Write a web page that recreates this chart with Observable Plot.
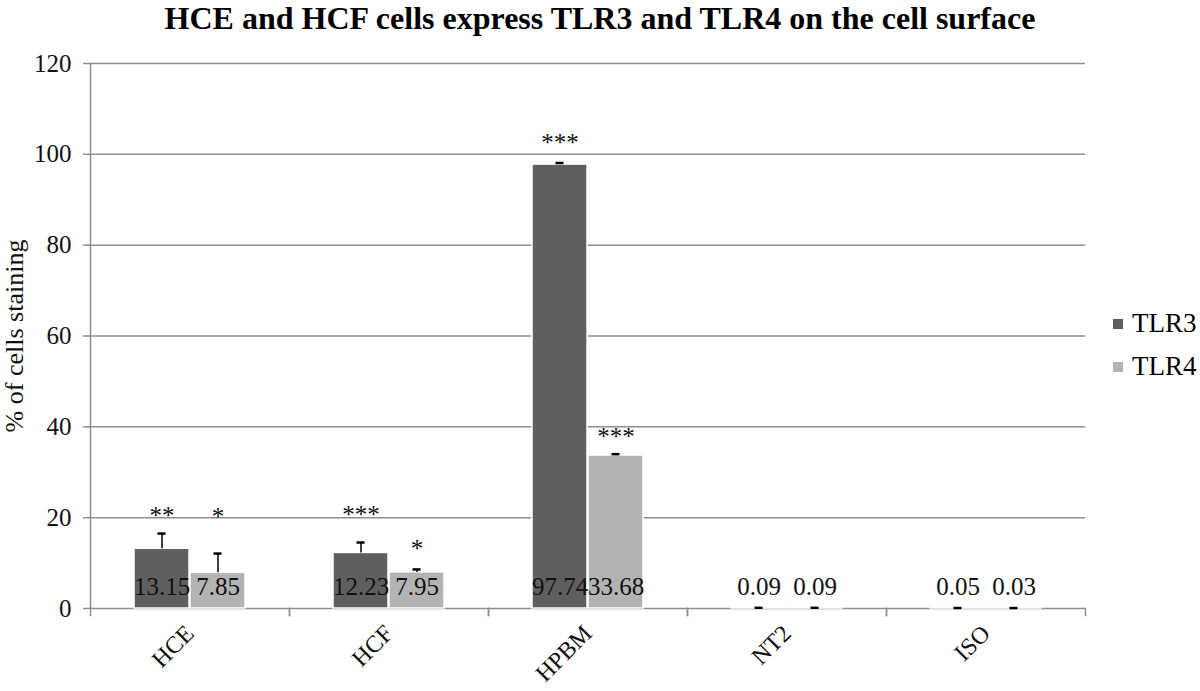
<!DOCTYPE html>
<html>
<head>
<meta charset="utf-8">
<script src="https://cdn.jsdelivr.net/npm/d3@7"></script>
<script src="https://cdn.jsdelivr.net/npm/@observablehq/plot@0.6"></script>
<style>
  body { margin: 0; background: #fff; font-family: "Liberation Serif", "Times New Roman", serif; }
  #wrap { position: relative; width: 1200px; height: 691px; overflow: hidden; }
  #title { position: absolute; left: 0; top: 2px; width: 1200px; text-align: center; font-weight: bold; font-size: 32px; line-height: 32px; color: #000; }
  #chart { position: absolute; left: 0; top: 50px; }
  #chart svg { font-family: "Liberation Serif", "Times New Roman", serif !important; }
  #legend { position: absolute; left: 1113px; top: 302px; font-size: 27px; color: #000; }
  .row { display: flex; align-items: center; height: 43px; }
  .sw { width: 10px; height: 10px; margin-right: 9px; }
</style>
</head>
<body>
<div id="wrap">
  <div id="title">HCE and HCF cells express TLR3 and TLR4 on the cell surface</div>
  <div id="chart"></div>
  <div id="legend"></div>
</div>
<script>
// ---- data ----
const categories = ["HCE", "HCF", "HPBM", "NT2", "ISO"];
const series = ["TLR3", "TLR4"];
const tlr3Values = [13.15, 12.23, 97.74, 0.09, 0.05];
const tlr4Values = [7.85, 7.95, 33.68, 0.09, 0.03];
const tlr3Errors = [3.35, 2.3, 0.35, 0.06, 0.06];
const tlr4Errors = [4.25, 0.65, 0.3, 0.06, 0.06];
const tlr3Sig = ["**", "***", "***", "", ""];
const tlr4Sig = ["*", "*", "***", "", ""];
const tlr3SigY = [21.4, 21.6, 103.5, null, null];
const tlr4SigY = [21.2, 14.3, 38.8, null, null];
const yTicks = [0, 20, 40, 60, 80, 100, 120];
const seriesColors = ["#5f5f5f", "#b3b3b3"];
const yLabel = "% of cells staining";

// ---- table ----
const rows = [];
categories.forEach((c, i) => {
  rows.push({cat: c, series: "TLR3", value: tlr3Values[i], err: tlr3Errors[i], sig: tlr3Sig[i], sigY: tlr3SigY[i]});
  rows.push({cat: c, series: "TLR4", value: tlr4Values[i], err: tlr4Errors[i], sig: tlr4Sig[i], sigY: tlr4SigY[i]});
});

const gridColor = "#8e8e8e";
const serif = "'Liberation Serif', 'Times New Roman', serif";

const chart = Plot.plot({
  width: 1200,
  height: 641,
  marginTop: 13,
  marginBottom: 83,
  marginLeft: 90,
  marginRight: 115,
  style: {fontFamily: serif, background: "white", color: "#111"},
  fx: {domain: categories, padding: 0, label: null},
  x: {domain: series, paddingInner: 0.02, paddingOuter: 0.77, axis: null},
  y: {domain: [0, 120]},
  color: {domain: series, range: seriesColors},
  marks: [
    Plot.gridY(yTicks.filter(t => t > 0), {stroke: gridColor, strokeOpacity: 1, strokeWidth: 1.5}),
    Plot.ruleY([0], {stroke: gridColor, strokeWidth: 1.5}),
    Plot.frame({anchor: "left", facetAnchor: "left", stroke: gridColor, strokeWidth: 1.5}),
    Plot.frame({anchor: "left", stroke: gridColor, strokeWidth: 1.5, insetTop: 545, insetBottom: -7}),
    Plot.frame({anchor: "right", stroke: gridColor, strokeWidth: 1.5, insetTop: 545, insetBottom: -7}),
    Plot.axisY({ticks: yTicks, tickSize: 7, tickPadding: 12, fontSize: 25, fontFamily: serif, stroke: gridColor, strokeWidth: 1.5,
      label: null}),
    Plot.axisY({ticks: [], tickSize: 0, fontSize: 26, fontFamily: serif,
      label: yLabel, labelAnchor: "center", labelOffset: 86, labelArrow: "none"}),
    Plot.axisFx({anchor: "bottom", tickRotate: -45, tickSize: 0, tickPadding: 21, fontSize: 24, fontFamily: serif, label: null}),
    Plot.barY(rows, {fx: "cat", x: "series", y: "value", fill: "series", stroke: "white", strokeWidth: 1.5}),
    Plot.ruleX(rows, {fx: "cat", x: "series", y1: "value", y2: d => d.value + d.err, stroke: "black", strokeWidth: 1.5}),
    Plot.tickY(rows, {fx: "cat", x: "series", y: d => d.value + d.err, stroke: "black", strokeWidth: 2.5, insetLeft: 23.5, insetRight: 23.5}),
    Plot.text(rows, {fx: "cat", x: "series", y: d => 0, text: d => d.value.toFixed(2), dy: -22, fontSize: 25, fontFamily: serif, lineAnchor: "middle", fill: "#111"}),
    Plot.text(rows.filter(d => d.sig), {fx: "cat", x: "series", y: "sigY", text: "sig", fontSize: 25, fontFamily: serif, lineAnchor: "middle", dy: 5, fill: "#111"})
  ]
});
document.getElementById("chart").appendChild(chart);

// legend
const legend = document.getElementById("legend");
series.forEach((s, i) => {
  const row = document.createElement("div");
  row.className = "row";
  const sw = document.createElement("div");
  sw.className = "sw";
  sw.style.background = seriesColors[i];
  const t = document.createElement("span");
  t.textContent = s;
  row.appendChild(sw);
  row.appendChild(t);
  legend.appendChild(row);
});
</script>
</body>
</html>
